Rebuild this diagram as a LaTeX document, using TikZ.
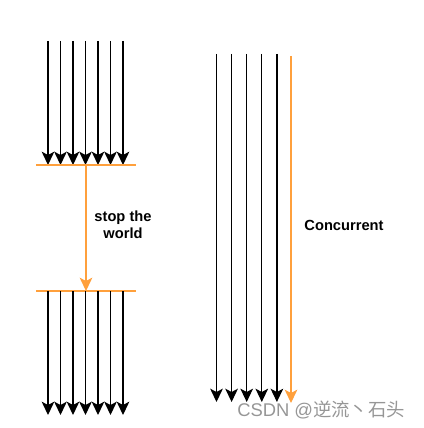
\documentclass[tikz,border=0pt]{standalone}
\usepackage{fontspec}
\setmainfont{Liberation Sans}
\newfontfamily\cjk{Noto Sans CJK SC}
\usetikzlibrary{arrows.meta}
\definecolor{stoporange}{RGB}{255, 160, 60}
\definecolor{markgray}{RGB}{150, 150, 150}

\begin{document}
\begin{tikzpicture}[x=0.75pt, y=-0.75pt,
  thread/.style={line width=0.9pt, -{Stealth[length=10pt, width=9.5pt, inset=2.5pt]}},
  pause/.style={line width=0.9pt, stoporange},
  label/.style={font=\fontsize{11}{12.5}\selectfont\bfseries, align=center}]
  \useasboundingbox (0,0) rectangle (424,428);

  % Threads before the pause
  \foreach \i in {0,...,6} {
    \coordinate (a\i) at (48+12.5*\i, 41);
    \coordinate (b\i) at (48+12.5*\i, 165);
    \draw[thread] (a\i) -- (b\i);
  }
  \coordinate (lineL) at (36, 165);
  \coordinate (lineR) at (136, 165);
  \draw[pause] (lineL) -- (lineR);

  % Stop the world
  \coordinate (stopA) at (86, 165);
  \coordinate (stopB) at (86, 291);
  \draw[thread, stoporange] (stopA) -- (stopB);
  \node[label] (stw) at (123, 225) {stop the\\world};
  \coordinate (line2L) at (36, 291);
  \coordinate (line2R) at (136, 291);
  \draw[pause] (line2L) -- (line2R);

  % Threads after the pause
  \foreach \i in {0,...,6} {
    \coordinate (c\i) at (48+12.5*\i, 291);
    \coordinate (d\i) at (48+12.5*\i, 415);
    \draw[thread] (c\i) -- (d\i);
  }

  % Concurrent
  \foreach \i in {0,...,4} {
    \coordinate (p\i) at (216.5+15.1*\i, 54);
    \coordinate (q\i) at (216.5+15.1*\i, 402);
    \draw[thread] (p\i) -- (q\i);
  }
  \coordinate (gcA) at (291, 56);
  \coordinate (gcB) at (291, 403);
  \draw[thread, stoporange] (gcA) -- (gcB);
  \node[label] (conc) at (344, 225) {Concurrent};

  \node[font=\fontsize{13.8}{15}\selectfont, text=markgray, anchor=west, inner sep=0pt] (mark) at (237, 410) {CSDN @{\cjk 逆流丶石头}};
\end{tikzpicture}
\end{document}
